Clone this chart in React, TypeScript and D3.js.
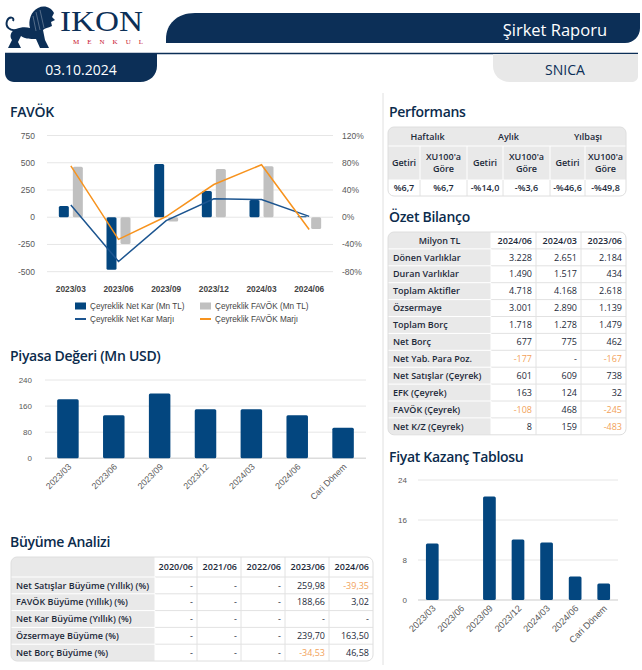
import React from 'react';
import * as d3 from 'd3';

// FAVÖK / net kar (Mn TL) and quarterly margins (%)
const favokPeriods = ['2023/03', '2023/06', '2023/09', '2023/12', '2024/03', '2024/06'];
const netKar = [104, -483, 488, 241, 159, 8];
const favok = [463, -245, -40, 442, 468, -108];
const netKarMarji = [18, -65, -5, 27, 26, 1.3];
const favokMarji = [75.5, -32.5, 1, 48, 77, -18];
const favokTicks = [-500, -250, 0, 250, 500, 750];
const marjTicks = [-80, -40, 0, 40, 80, 120];

// market cap and P/E
const donemler = ['2023/03', '2023/06', '2023/09', '2023/12', '2024/03', '2024/06', 'Cari Dönem'];
const piyasaDegeri = [181, 132, 199, 150, 150, 132, 94];
const piyasaTicks = [0, 80, 160, 240];
const fkOrani: (number | null)[] = [11.3, null, 20.7, 12.1, 11.5, 4.7, 3.3];
const fkTicks = [0, 8, 16, 24];

// tables
const perfGroups = ['Haftalık', 'Aylık', 'Yılbaşı'];
const perfSub = [['Getiri'], ['XU100\'a', 'Göre']];
const perfValues = ['%6,7', '%6,7', '-%14,0', '-%3,6', '-%46,6', '-%49,8'];

const bilancoYears = ['2024/06', '2024/03', '2023/06'];
const bilancoLabels = ['Dönen Varlıklar', 'Duran Varlıklar', 'Toplam Aktifler', 'Özsermaye', 'Toplam Borç', 'Net Borç',
  'Net Yab. Para Poz.', 'Net Satışlar (Çeyrek)', 'EFK (Çeyrek)', 'FAVÖK (Çeyrek)', 'Net K/Z (Çeyrek)'];
const bilancoValues = [
  ['3.228', '2.651', '2.184'], ['1.490', '1.517', '434'], ['4.718', '4.168', '2.618'], ['3.001', '2.890', '1.139'],
  ['1.718', '1.278', '1.479'], ['677', '775', '462'], ['-177', '-', '-167'], ['601', '609', '738'],
  ['163', '124', '32'], ['-108', '468', '-245'], ['8', '159', '-483'],
];

const buyumeYears = ['2020/06', '2021/06', '2022/06', '2023/06', '2024/06'];
const buyumeLabels = ['Net Satışlar Büyüme (Yıllık) (%)', 'FAVÖK Büyüme (Yıllık) (%)', 'Net Kar Büyüme (Yıllık) (%)',
  'Özsermaye Büyüme (%)', 'Net Borç Büyüme (%)'];
const buyumeValues = [
  ['-', '-', '-', '259,98', '-39,35'], ['-', '-', '-', '188,66', '3,02'], ['-', '-', '-', '-', '-'],
  ['-', '-', '-', '239,70', '163,50'], ['-', '-', '-', '-34,53', '46,58'],
];

const NAVY = '#0c2f57';
const TITLE = '#0b2b4c';
const BAR = '#03467f';
const GRAYBAR = '#c0c0c0';
const ORANGE = '#f7931e';
const LINEBLUE = '#1c5590';
const NEG = '#f2a25a';
const GRID = '#e6e6e6';
const AXIS = '#595959';
const CHART_FONT = '"Liberation Sans", Arial, sans-serif';
const TABLE_FONT = '"Open Sans", sans-serif';

const isNeg = (s: string) => s.length > 1 && s.startsWith('-');

type CellSpec = { lines: string[]; anchor: 'start' | 'middle' | 'end'; weight?: number; fill?: string; span?: number } | null;

function TableBox({ id, cols, rows, isGray, cell, skipV }: {
  id: string; cols: number[]; rows: number[];
  isGray: (r: number, c: number) => boolean;
  cell: (r: number, c: number) => CellSpec;
  skipV?: (r: number, c: number) => boolean;
}) {
  const x0 = cols[0], x1 = cols[cols.length - 1], y0 = rows[0], y1 = rows[rows.length - 1];
  const rects: JSX.Element[] = [];
  const lines: JSX.Element[] = [];
  const texts: JSX.Element[] = [];
  for (let r = 0; r < rows.length - 1; r++) {
    for (let c = 0; c < cols.length - 1; c++) {
      const g = isGray(r, c);
      const stroke = g ? '#ffffff' : '#e2e2e2';
      rects.push(<rect key={`b${r}-${c}`} x={cols[c]} y={rows[r]} width={cols[c + 1] - cols[c]} height={rows[r + 1] - rows[r]} fill={g ? '#e9e9e9' : '#ffffff'} />);
      if (r < rows.length - 2) {
        lines.push(<line key={`h${r}-${c}`} x1={cols[c]} x2={cols[c + 1]} y1={rows[r + 1]} y2={rows[r + 1]} stroke={stroke} strokeWidth={1} />);
      }
      if (c < cols.length - 2 && !(skipV && skipV(r, c))) {
        lines.push(<line key={`v${r}-${c}`} x1={cols[c + 1]} x2={cols[c + 1]} y1={rows[r]} y2={rows[r + 1]} stroke={stroke} strokeWidth={1} />);
      }
      const spec = cell(r, c);
      if (spec) {
        const left = cols[c];
        const right = cols[c + (spec.span || 1)];
        const tx = spec.anchor === 'start' ? left + 5 : spec.anchor === 'end' ? right - 4 : (left + right) / 2;
        const cy = (rows[r] + rows[r + 1]) / 2;
        const n = spec.lines.length;
        spec.lines.forEach((t, i) => {
          texts.push(
            <text key={`t${r}-${c}-${i}`} x={tx} y={cy + 3.2 + (i - (n - 1) / 2) * 12.4} textAnchor={spec.anchor}
              fontFamily={TABLE_FONT} fontSize={9} fontWeight={spec.weight || 400} fill={spec.fill || '#1d2a3a'}>{t}</text>
          );
        });
      }
    }
  }
  return (
    <g>
      <defs>
        <clipPath id={id}><rect x={x0} y={y0} width={x1 - x0} height={y1 - y0} rx={6} /></clipPath>
      </defs>
      <g clipPath={`url(#${id})`}>{rects}{lines}</g>
      <rect x={x0} y={y0} width={x1 - x0} height={y1 - y0} rx={6} fill="none" stroke="#dedede" />
      {texts}
    </g>
  );
}

function Title({ x, y, text }: { x: number; y: number; text: string }) {
  return <text x={x} y={y} fontFamily={TABLE_FONT} fontSize={14} fontWeight={600} fill={TITLE} letterSpacing={-0.3}>{text}</text>;
}

function FavokChart() {
  const x = d3.scaleBand<string>().domain(favokPeriods).range([47, 333]);
  const y = d3.scaleLinear().domain([-500, 750]).range([271.7, 135.5]);
  const yr = d3.scaleLinear().domain([-80, 120]).range([271.7, 135.5]);
  const cx = (d: string) => (x(d) || 0) + x.bandwidth() / 2;
  const marjLine = d3.line<number>().x((_, i) => cx(favokPeriods[i])).y(v => yr(v));
  const bar = (v: number, left: number, fill: string, key: string) => (
    <rect key={key} x={left} width={10} y={Math.min(y(v), y(0))} height={Math.abs(y(v) - y(0))} rx={1.5} fill={fill} />
  );
  return (
    <g>
      {favokTicks.map(t => (
        <g key={t}>
          <line x1={47} x2={333} y1={y(t)} y2={y(t)} stroke={GRID} />
          <text x={35} y={y(t) + 3} textAnchor="end" fontFamily={CHART_FONT} fontSize={8.5} fill={AXIS}>{t}</text>
        </g>
      ))}
      {marjTicks.map(t => (
        <text key={t} x={342} y={yr(t) + 3} fontFamily={CHART_FONT} fontSize={8.5} fill={AXIS}>{`${t}%`}</text>
      ))}
      {favokPeriods.map((p, i) => (
        <g key={p}>
          {bar(netKar[i], cx(p) - 12, BAR, 'n')}
          {bar(favok[i], cx(p) + 2, GRAYBAR, 'f')}
          <text x={cx(p)} y={292} textAnchor="middle" fontFamily={CHART_FONT} fontSize={8.3} fontWeight="bold" fill="#444">{p}</text>
        </g>
      ))}
      <path d={marjLine(netKarMarji) || ''} fill="none" stroke={LINEBLUE} strokeWidth={1.5} />
      <path d={marjLine(favokMarji) || ''} fill="none" stroke={ORANGE} strokeWidth={1.5} />
      <rect x={75} y={302.5} width={11} height={7} fill={BAR} />
      <text x={90} y={308.8} fontFamily={CHART_FONT} fontSize={8.2} fill="#444">Çeyreklik Net Kar (Mn TL)</text>
      <rect x={200} y={302.5} width={11} height={7} fill={GRAYBAR} />
      <text x={215} y={308.8} fontFamily={CHART_FONT} fontSize={8.2} fill="#444">Çeyreklik FAVÖK (Mn TL)</text>
      <line x1={75} x2={86} y1={319} y2={319} stroke={LINEBLUE} strokeWidth={2} />
      <text x={90} y={322} fontFamily={CHART_FONT} fontSize={8.2} fill="#444">Çeyreklik Net Kar Marjı</text>
      <line x1={200} x2={211} y1={319} y2={319} stroke={ORANGE} strokeWidth={2} />
      <text x={215} y={322} fontFamily={CHART_FONT} fontSize={8.2} fill="#444">Çeyreklik FAVÖK Marjı</text>
    </g>
  );
}

function ColumnChart({ values, ticks, x0, x1, yTop, yBase, labelX, barW, labelSize }: {
  values: (number | null)[]; ticks: number[]; x0: number; x1: number; yTop: number; yBase: number;
  labelX: number; barW: number; labelSize: number;
}) {
  const x = d3.scaleBand<string>().domain(donemler).range([x0, x1]);
  const y = d3.scaleLinear().domain([0, ticks[ticks.length - 1]]).range([yBase, yTop]);
  const cx = (d: string) => (x(d) || 0) + x.bandwidth() / 2;
  return (
    <g>
      {ticks.map(t => (
        <g key={t}>
          <line x1={x0} x2={x1} y1={y(t)} y2={y(t)} stroke={t === 0 ? '#dcdcdc' : GRID} strokeWidth={t === 0 ? 1.5 : 1} />
          <text x={labelX} y={y(t) + 3} textAnchor="end" fontFamily={CHART_FONT} fontSize={8} fill={AXIS}>{t}</text>
        </g>
      ))}
      {donemler.map((p, i) => {
        const v = values[i];
        return (
          <g key={p}>
            {v != null && (
              <rect x={cx(p) - barW / 2} width={barW} y={y(v)} height={y(0) - y(v)} rx={1.5} fill={BAR} />
            )}
            <text transform={`translate(${cx(p) + 4},${yBase + 9}) rotate(-45)`} textAnchor="end"
              fontFamily={CHART_FONT} fontSize={labelSize} fill={AXIS}>{p}</text>
          </g>
        );
      })}
    </g>
  );
}

function Lion() {
  return (
    <g fill={NAVY}>
      <path d="M8 48 L12 40 C9 36 11 31 16 29 C21 27 26 27 30 28 C28 21 31 11 38 8 C44 5 51 7 54 13 L52 17 L55 20 L51 22 L52 26 C48 28 45 28 43 30 L45 40 L49 48 L40 48 L36 39 C30 39 25 39 21 36 L18 42 L21 48 Z" />
      <path d="M16 30 C10 31 5 27 7 21 C9 16 15 17 13 21" fill="none" stroke={NAVY} strokeWidth={2} />
      <path d="M36 12 L40 30 M40 10 L44 28 M33 16 L36 31" stroke="#ffffff" strokeWidth={0.5} opacity={0.6} />
    </g>
  );
}

export default function App() {
  const perfCols = [388, 420, 467, 503, 550, 585, 626];
  const perfRows = [127, 146, 180, 196];
  const bilCols = [388, 491, 536, 581, 626];
  const bilRows = d3.range(13).map(i => 232 + i * 16.9);
  const buyCols = [11, 155, 197, 241, 285, 329, 373];
  const buyRows = [557, 577, ...d3.range(1, 6).map(i => 577 + i * 16.8)];

  return (
    <div style={{ position: 'absolute', left: 0, top: 0 }}>
      <svg width={642} height={670} style={{ display: 'block', background: '#ffffff' }}>
        {/* header */}
        <Lion />
        <text x={60} y={31} fontFamily='"Liberation Serif", "DejaVu Serif", serif' fontSize={29} fill={NAVY} textLength={83} lengthAdjust="spacingAndGlyphs">IKON</text>
        <text x={73} y={44} fontFamily='"Liberation Serif", serif' fontSize={7} fill="#c8102e" textLength={70} lengthAdjust="spacing">MENKUL</text>
        <path d="M166,43 L166,39 C166,24 177,13 195,13 L640,13 L640,28 C640,36 634,43 625,43 Z" fill={NAVY} />
        <text x={607} y={36} textAnchor="end" fontFamily={TABLE_FONT} fontSize={16.5} fill="#ffffff">Şirket Raporu</text>
        <line x1={5} x2={638} y1={53.5} y2={53.5} stroke={NAVY} strokeWidth={1.5} />
        <path d="M5,54 L157,54 L157,66 C157,75 150,82 140,82 L14,82 C9,82 5,78 5,73 Z" fill={NAVY} />
        <text x={81} y={75} textAnchor="middle" fontFamily={TABLE_FONT} fontSize={14} fill="#ffffff">03.10.2024</text>
        <path d="M493,54 L638,54 L638,76 C638,80 635,82 631,82 L510,82 C500,82 493,75 493,66 Z" fill="#e8e8e8" />
        <text x={565} y={75} textAnchor="middle" fontFamily={TABLE_FONT} fontSize={14} fill={NAVY}>SNICA</text>
        <line x1={383} x2={383} y1={93} y2={665} stroke="#e0e0e0" />

        {/* left column */}
        <Title x={10} y={117} text="FAVÖK" />
        <FavokChart />
        <Title x={10} y={361} text="Piyasa Değeri (Mn USD)" />
        <ColumnChart values={piyasaDegeri} ticks={piyasaTicks} x0={45} x1={366} yTop={380} yBase={458.3} labelX={32} barW={21.5} labelSize={8.8} />
        <Title x={10} y={547} text="Büyüme Analizi" />
        <TableBox id="buyume" cols={buyCols} rows={buyRows}
          isGray={(_, c) => c === 0}
          cell={(r, c) => {
            if (r === 0) return c === 0 ? null : { lines: [buyumeYears[c - 1]], anchor: 'end', weight: 600 };
            if (c === 0) return { lines: [buyumeLabels[r - 1]], anchor: 'start', weight: 600 };
            const v = buyumeValues[r - 1][c - 1];
            return { lines: [v], anchor: 'end', fill: isNeg(v) ? NEG : '#1d2a3a' };
          }} />

        {/* right column */}
        <Title x={389} y={117} text="Performans" />
        <TableBox id="perf" cols={perfCols} rows={perfRows}
          isGray={r => r < 2}
          skipV={r => r === 0}
          cell={(r, c) => {
            if (r === 0) return c % 2 === 0 ? { lines: [perfGroups[c / 2]], anchor: 'middle', weight: 600, span: 2 } : null;
            if (r === 1) return { lines: perfSub[c % 2], anchor: 'middle', weight: 600 };
            return { lines: [perfValues[c]], anchor: 'middle', weight: 600 };
          }} />
        <Title x={389} y={222} text="Özet Bilanço" />
        <TableBox id="bilanco" cols={bilCols} rows={bilRows}
          isGray={(_, c) => c === 0}
          cell={(r, c) => {
            if (r === 0) return c === 0 ? { lines: ['Milyon TL'], anchor: 'middle', weight: 600 } : { lines: [bilancoYears[c - 1]], anchor: 'end', weight: 600 };
            if (c === 0) return { lines: [bilancoLabels[r - 1]], anchor: 'start', weight: 600 };
            const v = bilancoValues[r - 1][c - 1];
            return { lines: [v], anchor: 'end', fill: isNeg(v) ? NEG : '#1d2a3a' };
          }} />
        <Title x={389} y={462} text="Fiyat Kazanç Tablosu" />
        <ColumnChart values={fkOrani} ticks={fkTicks} x0={418} x1={618} yTop={480} yBase={600} labelX={407} barW={12.7} labelSize={9.2} />
      </svg>
    </div>
  );
}
